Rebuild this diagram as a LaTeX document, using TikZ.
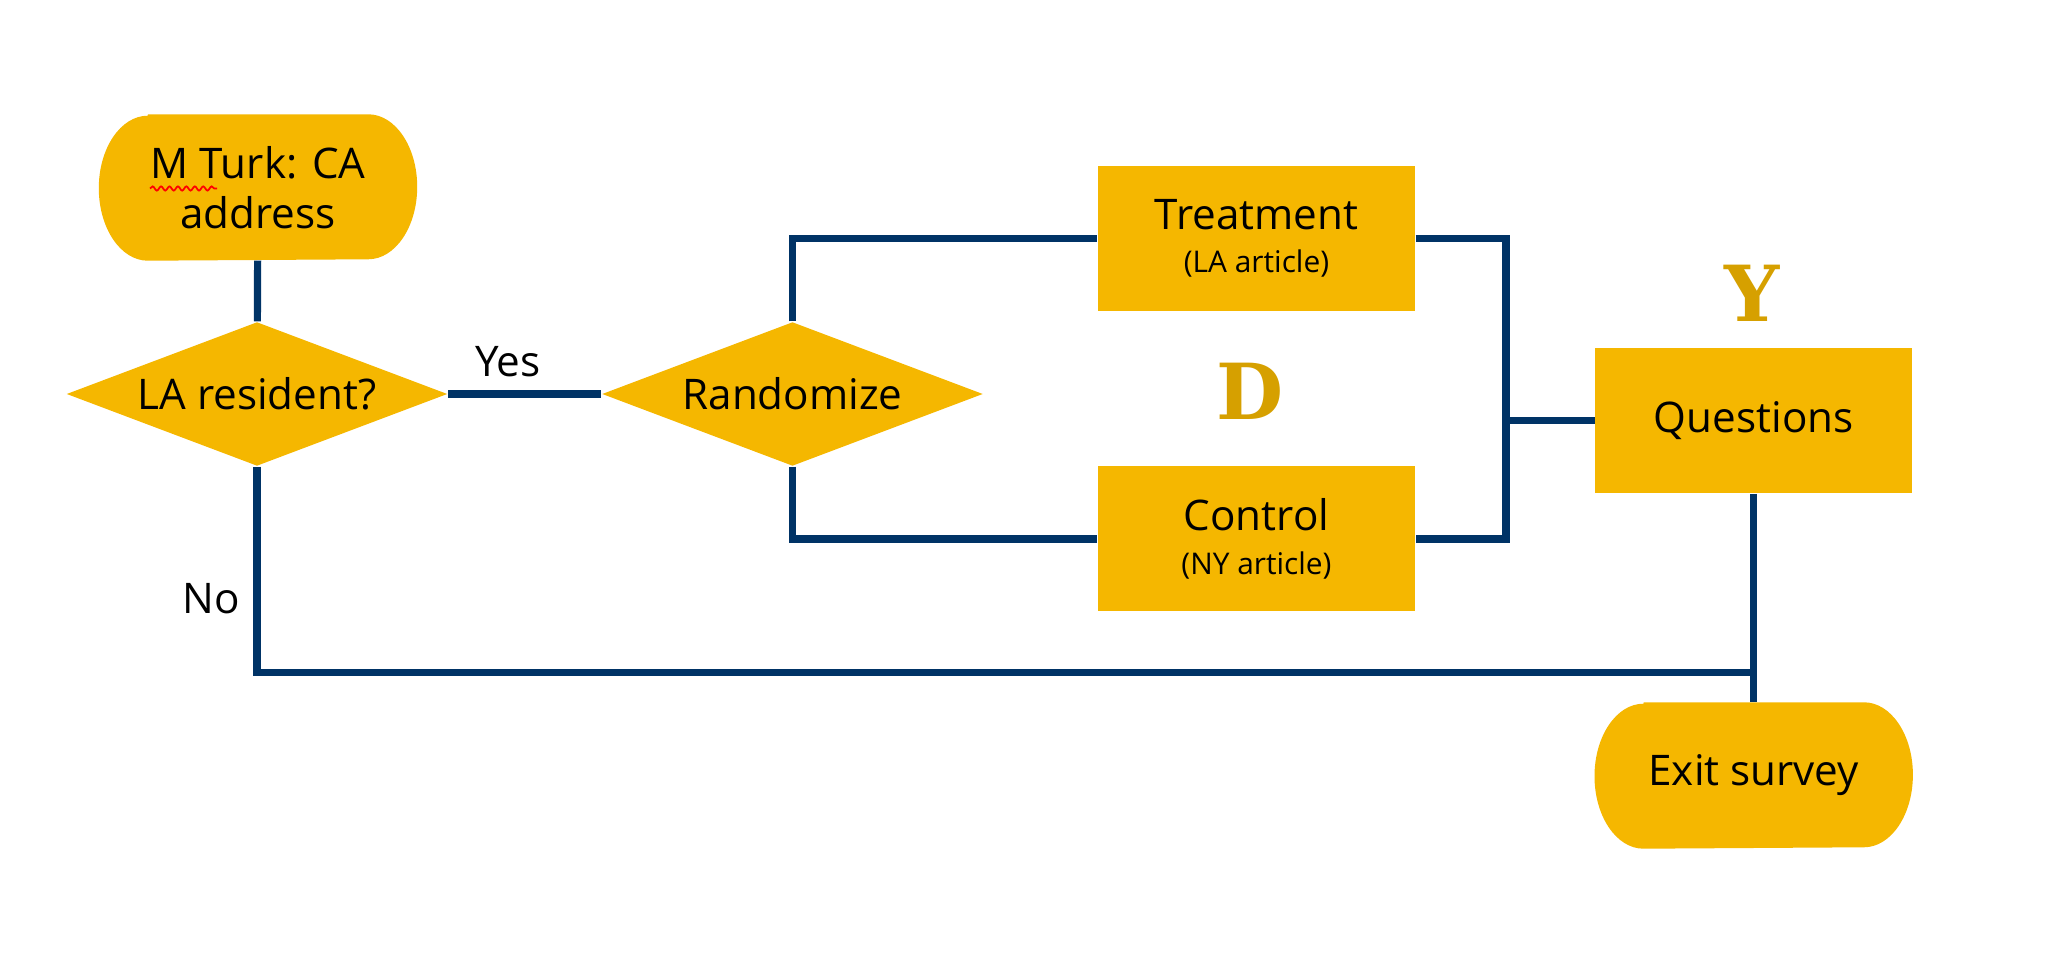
\documentclass[tikz,border=0pt]{standalone}
\usepackage{fontspec}
\setmainfont{Open Sans}
\newfontfamily\slabfont{DejaVu Serif}
\usepackage{xcolor}
\usepackage{tikz}
\usetikzlibrary{shapes.geometric, positioning, backgrounds, calc,
                decorations.pathmorphing}
\definecolor{flowgold}{RGB}{245, 183, 0}
\definecolor{letgold}{RGB}{214, 160, 0}
\definecolor{navyline}{RGB}{0, 51, 102}

\begin{document}
\begin{tikzpicture}[
    proc/.style={fill=flowgold, minimum width=3.17cm, minimum height=1.45cm,
                 inner sep=0pt, align=center, font=\fontsize{12}{14.4}\selectfont},
    term/.style={minimum width=3.17cm, minimum height=1.45cm, inner sep=0pt,
                 align=center, font=\fontsize{12}{14.4}\selectfont},
    decision/.style={diamond, fill=flowgold, minimum height=1.44cm, inner sep=0pt,
                     minimum width=3.81cm, aspect=2.65,
                     font=\fontsize{12}{14.4}\selectfont},
    link/.style={navyline, line width=2.05pt},
    branch/.style={font=\fontsize{12}{14.4}\selectfont},
    varlabel/.style={text=letgold, font=\slabfont\bfseries\fontsize{22}{26}\selectfont}
]
    \useasboundingbox (0,0) rectangle (20.52,-9.68);

    \node[term] (mturk) at (2.58,-1.875) {M Turk: CA\\address};
    \node[decision] (lares) at (2.57,-3.94) {LA resident?};
    \node[decision] (rand) at (7.925,-3.94) {Randomize};

    \node[proc] (treat) at (12.565,-2.385) {Treatment\\[-2pt]{\fontsize{8.5}{10}\selectfont (LA article)}};
    \node[proc] (ctrl) at (12.565,-5.39) {Control\\[-2pt]{\fontsize{8.5}{10}\selectfont (NY article)}};
    \node[proc] (quest) at (17.537,-4.208) {Questions};
    \node[term] (exit) at (17.537,-7.755) {Exit survey};

    \node[varlabel] (dlab) at (12.50,-3.91) {D};
    \node[varlabel] (ylab) at (17.52,-2.93) {Y};
    \node[branch] (yes) at (5.08,-3.62) {Yes};
    \node[branch] (no) at (2.11,-5.99) {No};

    % terminal ends are elliptical
    \begin{scope}[on background layer]
        \foreach \t in {mturk, exit} {
            \fill[flowgold] ($(\t.north west)+(0.49,0)$) -- ($(\t.north east)+(-0.49,0)$)
                arc[start angle=90, end angle=-90, x radius=0.49, y radius=0.725]
                -- ($(\t.south west)+(0.49,0)$)
                arc[start angle=270, end angle=90, x radius=0.49, y radius=0.725] -- cycle;
        }
    \end{scope}
    \draw[red, line width=0.5pt, decorate,
          decoration={snake, amplitude=0.6pt, segment length=2.4pt}]
        (1.50,-1.885) -- (2.17,-1.885);

    \coordinate (join) at (15.06,-4.208);
    \coordinate (bottom) at (17.537,-6.727);

    \draw[link] (mturk) -- (lares);
    \draw[link] (lares.east) -- (rand.west);
    \draw[link] (rand.north) |- (treat.west);
    \draw[link] (rand.south) |- (ctrl.west);
    \draw[link] (treat.east) -| (join) |- (ctrl.east);
    \draw[link] (join) -- (quest.west);
    \draw[link] (lares.south) |- (bottom);
    \draw[link] (quest.south) -- (exit.north);
\end{tikzpicture}
\end{document}
